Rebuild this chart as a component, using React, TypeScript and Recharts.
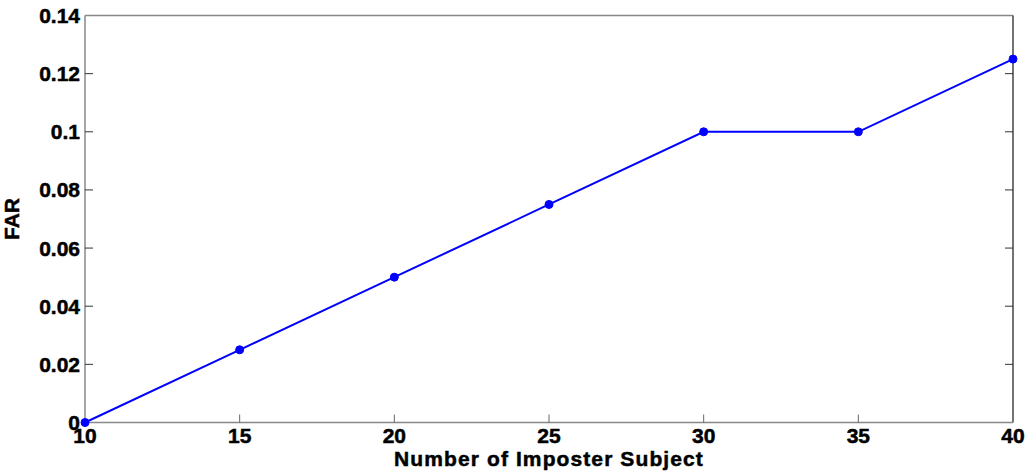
import React from 'react';
import { LineChart, Line, XAxis, YAxis, ReferenceLine } from 'recharts';

const imposterSubjects = [10, 15, 20, 25, 30, 35, 40];
const farValues = [0, 0.025, 0.05, 0.075, 0.1, 0.1, 0.125];
const xTicks = [10, 15, 20, 25, 30, 35, 40];
const yTicks = [0, 0.02, 0.04, 0.06, 0.08, 0.1, 0.12, 0.14];

const data = imposterSubjects.map((x, i) => ({ x, far: farValues[i] }));

const FONT = '"Liberation Sans", Arial, Helvetica, sans-serif';
const FS = 21;
const TM = 5;
const HEAVY = { stroke: '#000', strokeWidth: 0.5 };

const XTick = (props: any) => {
  const { x, y, payload } = props;
  const axisY = y - TM;
  const isEdge = payload.value === 10 || payload.value === 40;
  return (
    <g>
      {!isEdge && <line x1={x} x2={x} y1={axisY} y2={axisY - 8} stroke="#666" strokeWidth={1} />}
      <text x={x} y={y + 15.5} textAnchor="middle" fontFamily={FONT} fontWeight="bold" fontSize={FS} fill="#000" {...HEAVY}>
        {String(payload.value)}
      </text>
    </g>
  );
};

const YTick = (props: any) => {
  const { x, y, payload } = props;
  const axisX = x + TM;
  const isEdge = payload.value === 0 || payload.value === 0.14;
  return (
    <g>
      {!isEdge && <line x1={axisX} x2={axisX + 8} y1={y} y2={y} stroke="#333" strokeWidth={1} />}
      {!isEdge && <line x1={1013} x2={1005} y1={y} y2={y} stroke="#333" strokeWidth={1} />}
      <text x={x} y={y + 7.5} textAnchor="end" fontFamily={FONT} fontWeight="bold" fontSize={FS} fill="#000" {...HEAVY}>
        {String(payload.value)}
      </text>
    </g>
  );
};

export default function App() {
  return (
    <div style={{ position: 'absolute', left: 0, top: 0, width: 1029, height: 471, background: '#fff' }}>
      <LineChart width={1029} height={471} data={data} margin={{ top: 15.5, right: 16, bottom: 0, left: 0 }}>
        <XAxis
          dataKey="x"
          type="number"
          domain={[10, 40]}
          ticks={xTicks}
          interval={0}
          tickSize={0}
          tickMargin={TM}
          tick={<XTick />}
          axisLine={{ stroke: '#888', strokeWidth: 1.5 }}
          height={48.5}
          label={{ value: 'Number of Imposter Subject', position: 'insideBottom', offset: 5, fontFamily: FONT, fontWeight: 'bold', fontSize: FS, fill: '#000', stroke: '#000', strokeWidth: 0.5, style: { letterSpacing: '1.1px' } }}
        />
        <YAxis
          type="number"
          domain={[0, 0.14]}
          ticks={yTicks}
          interval={0}
          tickSize={0}
          tickMargin={TM}
          tick={<YTick />}
          axisLine={{ stroke: '#888', strokeWidth: 1.5 }}
          width={85}
          label={{ value: 'FAR', angle: -90, position: 'insideLeft', offset: 12, fontFamily: FONT, fontWeight: 'bold', fontSize: FS, fill: '#000', stroke: '#000', strokeWidth: 0.5, style: { textAnchor: 'middle' } }}
        />
        <ReferenceLine y={0.14} stroke="#888" strokeWidth={1.5} />
        <ReferenceLine x={40} stroke="#444" strokeWidth={1.5} />
        <Line
          type="linear"
          dataKey="far"
          stroke="#0000ff"
          strokeWidth={2}
          dot={{ r: 4, fill: '#0000ff', stroke: '#0000ff', strokeWidth: 1 }}
          isAnimationActive={false}
        />
      </LineChart>
    </div>
  );
}
